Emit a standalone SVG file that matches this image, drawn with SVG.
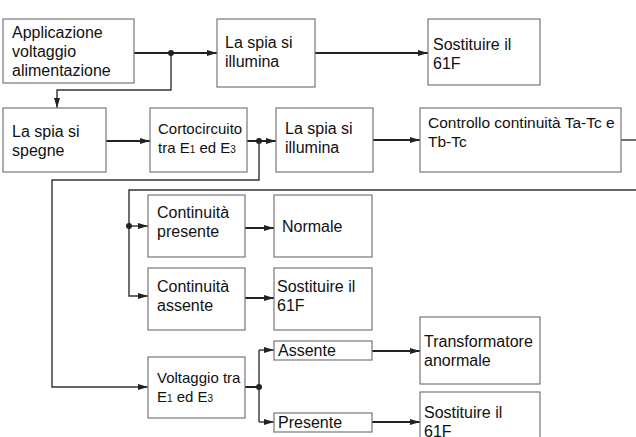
<svg xmlns="http://www.w3.org/2000/svg" width="636" height="437" viewBox="0 0 636 437">
<defs>
<marker id="ah" viewBox="0 0 10 6" refX="10" refY="3" markerWidth="10" markerHeight="6" markerUnits="userSpaceOnUse" orient="auto">
<path d="M0,0 L10,3 L0,6 Z" fill="#222"/>
</marker>
<style>
.box{fill:#fff;stroke:#777;stroke-width:1.2}
text{font-family:"Liberation Sans",Arial,sans-serif;font-size:16px;fill:#111}
.sm{font-size:15px}
.md{font-size:15.5px}
.sub{font-size:10px}
.c{fill:none;stroke:#222;stroke-width:2}
.t{fill:none;stroke:#333;stroke-width:1.4}
.dot{fill:#222}
</style>
</defs>
<rect width="636" height="437" fill="#fff"/>
<g id="connectors">
<path class="c" d="M134,53 H217" marker-end="url(#ah)"/>
<path class="c" d="M315,53 H428" marker-end="url(#ah)"/>
<path class="t" d="M171,53 V90 H57 V108" marker-end="url(#ah)"/>
<circle class="dot" cx="171" cy="53" r="3"/>
<path class="c" d="M106,141 H150" marker-end="url(#ah)"/>
<path class="c" d="M247,141 H276" marker-end="url(#ah)"/>
<circle class="dot" cx="259" cy="141" r="3"/>
<path class="t" d="M259,141 V180 H52 V387 H148" marker-end="url(#ah)"/>
<path class="c" d="M373,140 H420" marker-end="url(#ah)"/>
<path class="t" d="M621,140 H636"/>
<path class="t" d="M636,190 H129 V296 H148" marker-end="url(#ah)"/>
<path class="t" d="M129,226 H148" marker-end="url(#ah)"/>
<circle class="dot" cx="129" cy="226" r="3"/>
<path class="c" d="M245,228 H274" marker-end="url(#ah)"/>
<path class="c" d="M245,298 H274" marker-end="url(#ah)"/>
<path class="c" d="M245,387 H259"/>
<path class="t" d="M259,350 V422"/>
<path class="t" d="M259,350 H274" marker-end="url(#ah)"/>
<path class="t" d="M259,422 H274" marker-end="url(#ah)"/>
<circle class="dot" cx="259" cy="387" r="3"/>
<path class="c" d="M372,351 H420" marker-end="url(#ah)"/>
<path class="c" d="M372,422 H420" marker-end="url(#ah)"/>
</g>
<g id="n1"><rect class="box" x="3" y="19" width="131" height="64"/>
<text x="12" y="38">Applicazione</text><text x="12" y="57">voltaggio</text><text x="12" y="76">alimentazione</text></g>
<g id="n2"><rect class="box" x="217" y="19" width="98" height="68"/>
<text x="225" y="48">La spia si</text><text x="225" y="67">illumina</text></g>
<g id="n3"><rect class="box" x="428" y="19" width="112" height="66"/>
<text x="433" y="50">Sostituire il</text><text x="433" y="69">61F</text></g>
<g id="n4"><rect class="box" x="3" y="108" width="103" height="64"/>
<text x="12" y="137">La spia si</text><text x="12" y="156">spegne</text></g>
<g id="n5"><rect class="box" x="150" y="108" width="97" height="64"/>
<text x="158" y="134" class="sm">Cortocircuito</text><text x="158" y="153" class="sm">tra E<tspan class="sub">1</tspan> ed E<tspan class="sub">3</tspan></text></g>
<g id="n6"><rect class="box" x="276" y="108" width="97" height="64"/>
<text x="285" y="134">La spia si</text><text x="285" y="153">illumina</text></g>
<g id="n7"><rect class="box" x="420" y="108" width="201" height="64"/>
<text x="428" y="128" class="md">Controllo continuità Ta-Tc e</text><text x="428" y="147" class="md">Tb-Tc</text></g>
<g id="n8"><rect class="box" x="148" y="195" width="97" height="62"/>
<text x="157" y="218">Continuità</text><text x="157" y="237">presente</text></g>
<g id="n9"><rect class="box" x="274" y="195" width="98" height="62"/>
<text x="282" y="232">Normale</text></g>
<g id="n10"><rect class="box" x="148" y="268" width="97" height="62"/>
<text x="157" y="292">Continuità</text><text x="157" y="311">assente</text></g>
<g id="n11"><rect class="box" x="274" y="268" width="98" height="62"/>
<text x="277" y="292">Sostituire il</text><text x="277" y="311">61F</text></g>
<g id="n12"><rect class="box" x="148" y="357" width="97" height="61"/>
<text x="157" y="383" class="sm">Voltaggio tra</text><text x="157" y="402" class="sm">E<tspan class="sub">1</tspan> ed E<tspan class="sub">3</tspan></text></g>
<g id="n13"><rect class="box" x="274" y="341" width="98" height="19"/>
<text x="278" y="356">Assente</text></g>
<g id="n14"><rect class="box" x="274" y="413" width="98" height="19"/>
<text x="278" y="428">Presente</text></g>
<g id="n15"><rect class="box" x="420" y="317" width="120" height="67"/>
<text x="424" y="347">Transformatore</text><text x="424" y="366">anormale</text></g>
<g id="n16"><rect class="box" x="420" y="392" width="120" height="60"/>
<text x="424" y="418">Sostituire il</text><text x="424" y="437">61F</text></g>
</svg>
